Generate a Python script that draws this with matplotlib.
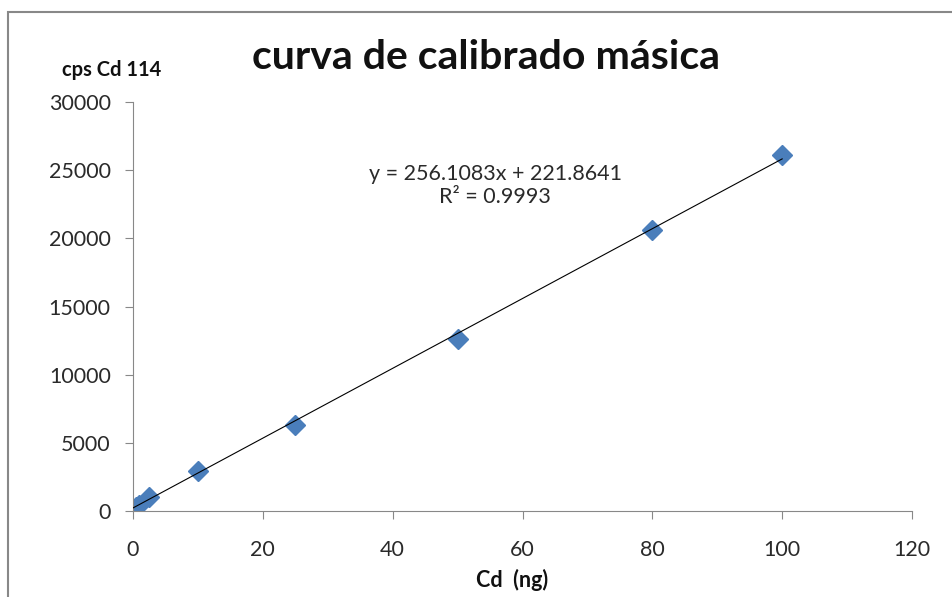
import matplotlib.pyplot as plt
from matplotlib.patches import Rectangle
import numpy as np

plt.rcParams['font.family'] = ['Lato', 'DejaVu Sans']

# calibration data
cd_ng = [0, 0.5, 1, 2.5, 10, 25, 50, 80, 100]
cps = [20, 270, 430, 1050, 2950, 6300, 12600, 20600, 26100]
slope = 256.1083
intercept = 221.8641
r2 = 0.9993

fig = plt.figure(figsize=(9.52, 5.97), dpi=100)
ax = fig.add_axes([0.1397, 0.1441, 0.958 - 0.1397, 0.829 - 0.1441])

xl = np.array([0, 100])
ax.plot(xl, slope * xl + intercept, color='black', lw=0.8, zorder=3)
ax.plot(cd_ng, cps, linestyle='none', marker='D', ms=10, color='#4a7ebb',
        mec='#4a7ebb', zorder=2)

ax.set_xlim(0, 120)
ax.set_ylim(0, 30000)
ax.set_xticks(range(0, 121, 20))
ax.set_yticks(range(0, 30001, 5000))
ax.tick_params(direction='out', length=6, color='#888888', labelsize=15.5,
               labelcolor='#2a2a2a')
ax.tick_params(axis='x', pad=15)
ax.tick_params(axis='y', pad=10)
for s in ['top', 'right']:
    ax.spines[s].set_visible(False)
for s in ['left', 'bottom']:
    ax.spines[s].set_color('#888888')

ax.text(0.465, 0.825, 'y = 256.1083x + 221.8641', transform=ax.transAxes,
        ha='center', va='center', fontsize=15.5, color='#2a2a2a')
ax.text(0.465, 0.767, 'R² = 0.9993', transform=ax.transAxes,
        ha='center', va='center', fontsize=15.5, color='#2a2a2a')

fig.text(0.511, 0.903, 'curva de calibrado másica', ha='center', va='center',
         fontsize=29.5, fontweight='bold', color='#111111')
fig.text(0.065, 0.882, 'cps Cd 114', ha='left', va='center', fontsize=14.5,
         fontweight='bold', color='#111111')
fig.text(0.538, 0.028, 'Cd  (ng)', ha='center', va='center', fontsize=15.5,
         fontweight='bold', color='#111111')

fig.patches.append(Rectangle((8 / 952, -0.1), 1.2, 1 - 11.5 / 597 + 0.1,
                             transform=fig.transFigure, fill=False,
                             edgecolor='#888888', lw=1.5))

plt.savefig('out.png', dpi=100)
